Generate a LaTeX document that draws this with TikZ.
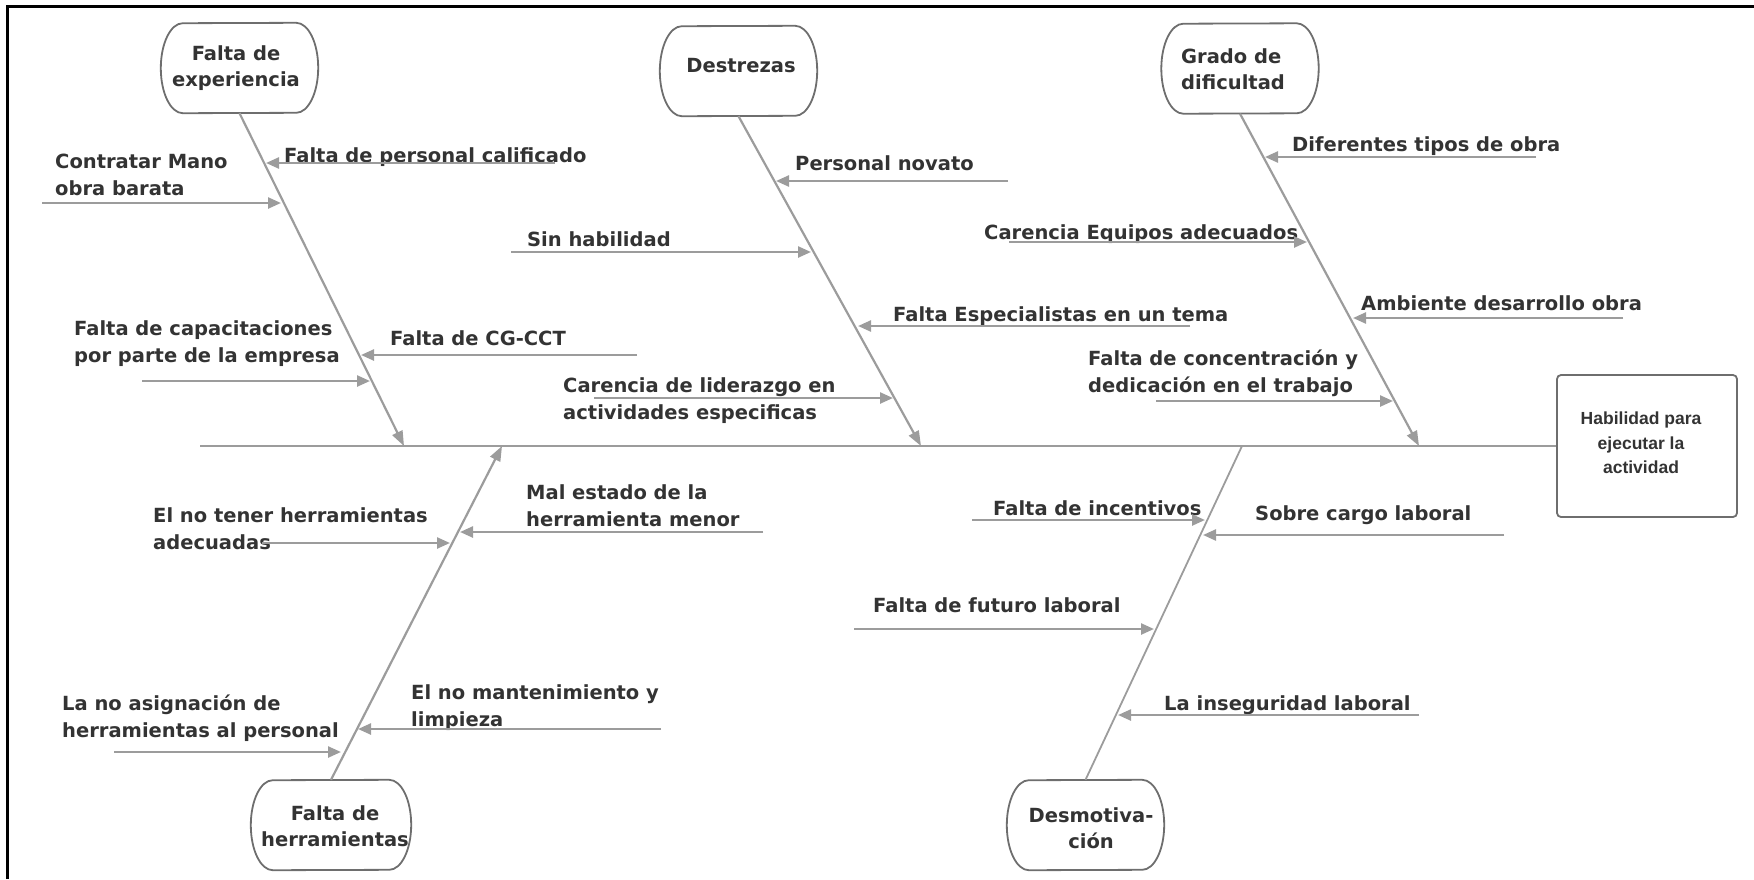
\documentclass[tikz,border=0pt]{standalone}
\usepackage{fontspec}
\setmainfont{DejaVu Sans}
\newfontfamily\effectfont{Liberation Sans}
\usetikzlibrary{arrows.meta,calc}
\definecolor{ink}{HTML}{333333}
\definecolor{bonegray}{HTML}{9C9C9C}
\definecolor{boxgray}{HTML}{6E6E6E}

% capsule outline with elliptic sides around an (empty) named node
\newcommand{\capsulebox}[1]{%
  \draw[capline] ($(#1.north east)+(-22,0)$)
    arc[start angle=-90,end angle=90,x radius=22,y radius=45]
    -- ($(#1.south west)+(22,0)$)
    arc[start angle=90,end angle=270,x radius=22,y radius=45] -- cycle;}

\begin{document}
\begin{tikzpicture}[x=1pt,y=-1pt,
  % multi-line labels are placed by the baseline of their last line
  lbl/.style={font=\fontsize{19.5}{27}\selectfont\bfseries, text=ink,
    inner sep=0pt, align=left, anchor=base west},
  captext/.style={font=\fontsize{19.5}{26.5}\selectfont\bfseries, text=ink,
    inner sep=0pt, align=center, anchor=base},
  capbox/.style={minimum width=157pt, minimum height=90pt, inner sep=0pt},
  capline/.style={draw=boxgray, line width=1.8pt},
  bone/.style={draw=bonegray, line width=2.2pt},
  bonearrow/.style={bone, -{Triangle[length=15pt,width=11pt]}},
  cause/.style={draw=bonegray, line width=2.4pt, -{Triangle[length=13pt,width=11pt]}},
  efftext/.style={font=\effectfont\fontsize{17.5}{24.5}\selectfont\bfseries,
    text=ink, inner sep=0pt, align=center},
]
\useasboundingbox (0,0) rectangle (1754,879);

% outer frame (left and top sides)
\coordinate (fr1) at (7.5,879);
\coordinate (fr2) at (7.5,6.5);
\coordinate (fr3) at (1754,6.5);
\draw[line width=3.5pt] (fr1) -- (fr2) -- (fr3);

% effect
\node[draw=boxgray, line width=1.8pt, rounded corners=4pt,
      minimum width=180pt, minimum height=142pt] (eff) at (1647,446) {};
\node[efftext] (efft) at (1641,443) {Habilidad para\\ejecutar la\\actividad};

% spine
\coordinate (spl) at (200,446);
\draw[bone] (spl) -- (eff.west);

% category boxes
\node[capbox] (fe) at (239.5,68) {};
\node[capbox] (de) at (738.5,71) {};
\node[capbox] (gd) at (1240,68.5) {};
\node[capbox, minimum width=160pt] (fh) at (331,825) {};
\node[capbox] (dm) at (1085.5,825) {};
\capsulebox{fe}
\capsulebox{de}
\capsulebox{gd}
\capsulebox{fh}
\capsulebox{dm}

\node[captext] (fet) at (236,86.5) {Falta de\\experiencia};
\node[captext] (det) at (741,72) {Destrezas};
\node[captext, align=left, anchor=base west] (gdt) at (1181,89.5) {Grado de\\dificultad};
\node[captext] (fht) at (335,846.5) {Falta de\\herramientas};
\node[captext] (dmt) at (1091,848.5) {Desmotiva-\\ción};

% junctions on the spine
\coordinate (j1) at (404,446);
\coordinate (j2) at (921,446);
\coordinate (j3) at (1419,446);
\coordinate (j4) at (502,446);
\coordinate (j5) at (1242,446);

% bones
\draw[bonearrow] (fe.south) -- (j1);
\draw[bonearrow] (de.south) -- (j2);
\draw[bonearrow] (gd.south) -- (j3);
\draw[bonearrow] (fh.north) -- (j4);
\draw[bone, line width=1.8pt] (j5) -- (dm.north);

% labels
\node[lbl] (l1) at (284,162) {Falta de personal calificado};
\node[lbl] (l2) at (55,195) {Contratar Mano\\obra barata};
\node[lbl] (l3) at (74,362) {Falta de capacitaciones\\por parte de la empresa};
\node[lbl] (l4) at (390,345) {Falta de CG-CCT};
\node[lbl] (l5) at (795,170) {Personal novato};
\node[lbl] (l6) at (527,246) {Sin habilidad};
\node[lbl] (l7) at (893,321) {Falta Especialistas en un tema};
\node[lbl] (l8) at (563,419) {Carencia de liderazgo en\\actividades especificas};
\node[lbl] (l9) at (1292,151) {Diferentes tipos de obra};
\node[lbl] (l10) at (984,239) {Carencia Equipos adecuados};
\node[lbl] (l11) at (1361,310) {Ambiente desarrollo obra};
\node[lbl] (l12) at (1088,392) {Falta de concentración y\\dedicación en el trabajo};
\node[lbl] (l13) at (526,526) {Mal estado de la\\herramienta menor};
\node[lbl] (l14) at (153,549) {El no tener herramientas\\adecuadas};
\node[lbl] (l15) at (62,737) {La no asignación de\\herramientas al personal};
\node[lbl] (l16) at (411,726) {El no mantenimiento y\\limpieza};
\node[lbl] (l17) at (993,515) {Falta de incentivos};
\node[lbl] (l18) at (1255,520) {Sobre cargo laboral};
\node[lbl] (l19) at (873,612) {Falta de futuro laboral};
\node[lbl] (l20) at (1164,710) {La inseguridad laboral};

% cause arrows: free end (s) to point on bone (t)
\coordinate (s1) at (555,163);  \coordinate (t1) at (266,163);
\coordinate (s2) at (42,203);   \coordinate (t2) at (281,203);
\coordinate (s3) at (142,381);  \coordinate (t3) at (370,381);
\coordinate (s4) at (637,355);  \coordinate (t4) at (361,355);
\coordinate (s5) at (1008,181); \coordinate (t5) at (776,181);
\coordinate (s6) at (511,252);  \coordinate (t6) at (811,252);
\coordinate (s7) at (1190,326); \coordinate (t7) at (858,326);
\coordinate (s8) at (594,398);  \coordinate (t8) at (893,398);
\coordinate (s9) at (1536,157); \coordinate (t9) at (1265,157);
\coordinate (s10) at (1009,242); \coordinate (t10) at (1307,242);
\coordinate (s11) at (1623,318); \coordinate (t11) at (1353,318);
\coordinate (s12) at (1156,401); \coordinate (t12) at (1393,401);
\coordinate (s13) at (763,532);  \coordinate (t13) at (460,532);
\coordinate (s14) at (262,543);  \coordinate (t14) at (450,543);
\coordinate (s15) at (114,752);  \coordinate (t15) at (341,752);
\coordinate (s16) at (661,729);  \coordinate (t16) at (358,729);
\coordinate (s17) at (972,520);  \coordinate (t17) at (1205,520);
\coordinate (s18) at (1504,535); \coordinate (t18) at (1203,535);
\coordinate (s19) at (854,629);  \coordinate (t19) at (1154,629);
\coordinate (s20) at (1419,715); \coordinate (t20) at (1118,715);
\foreach \i in {1,...,20} {\draw[cause] (s\i) -- (t\i);}
\end{tikzpicture}
\end{document}
